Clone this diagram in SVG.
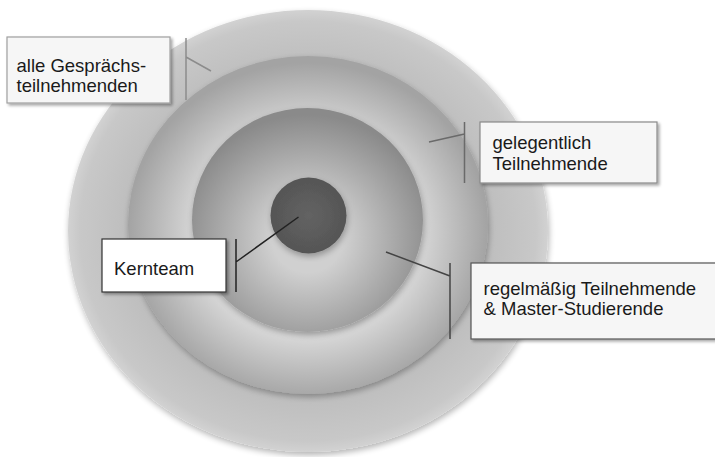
<svg xmlns="http://www.w3.org/2000/svg" width="715" height="457" viewBox="0 0 715 457">
  <style>
    .lbl { font-family: "Liberation Sans", Arial, sans-serif; font-size: 18.5px; fill: #1a1a1a; }
    .box { fill: #f6f6f6; stroke: #8a8a8a; stroke-width: 1.2; }
    .con { fill: none; stroke: #555; stroke-width: 1.5; }
  </style>
  <defs>
    <radialGradient id="gOuter" cx="50%" cy="50%" r="50%">
      <stop offset="0.72" stop-color="#bcbcbc"/>
      <stop offset="0.95" stop-color="#c8c8c8"/>
      <stop offset="1" stop-color="#d2d2d2"/>
    </radialGradient>
    <radialGradient id="gSecond" cx="50%" cy="52%" r="50%">
      <stop offset="0.62" stop-color="#d8d8d8"/>
      <stop offset="1" stop-color="#a3a3a3"/>
    </radialGradient>
    <radialGradient id="gThird" cx="50%" cy="58%" r="55%">
      <stop offset="0.28" stop-color="#d0d0d0"/>
      <stop offset="1" stop-color="#8a8a8a"/>
    </radialGradient>
    <radialGradient id="gInner" cx="50%" cy="50%" r="50%">
      <stop offset="0" stop-color="#636363"/>
      <stop offset="1" stop-color="#555555"/>
    </radialGradient>
    <filter id="discShadow" x="-10%" y="-10%" width="120%" height="120%">
      <feGaussianBlur in="SourceAlpha" stdDeviation="3"/>
      <feOffset dx="1" dy="3" result="b"/>
      <feComponentTransfer><feFuncA type="linear" slope="0.3"/></feComponentTransfer>
      <feMerge><feMergeNode/><feMergeNode in="SourceGraphic"/></feMerge>
    </filter>
    <filter id="boxShadow" x="-10%" y="-20%" width="120%" height="140%">
      <feGaussianBlur in="SourceAlpha" stdDeviation="1.5"/>
      <feOffset dx="1.5" dy="2" result="b"/>
      <feComponentTransfer><feFuncA type="linear" slope="0.35"/></feComponentTransfer>
      <feMerge><feMergeNode/><feMergeNode in="SourceGraphic"/></feMerge>
    </filter>
  </defs>

  <rect width="715" height="457" fill="#ffffff"/>

  <g id="discs">
    <ellipse id="disc-outer" cx="308" cy="231" rx="240" ry="221" fill="url(#gOuter)" filter="url(#discShadow)"/>
    <ellipse id="disc-second" cx="308" cy="225" rx="180" ry="169" fill="url(#gSecond)" filter="url(#discShadow)"/>
    <ellipse id="disc-third" cx="307.5" cy="220" rx="115.5" ry="112" fill="url(#gThird)" filter="url(#discShadow)"/>
    <ellipse id="disc-inner" cx="308.5" cy="215.5" rx="38" ry="38" fill="url(#gInner)" filter="url(#discShadow)"/>
  </g>

  <g id="connectors">
    <path class="con" d="M186 38 V100 M186 57 L211 71" style="stroke:#8c8c8c"/>
    <path class="con" d="M464.5 122 V183 M464.5 134 L429 142" style="stroke:#6a6a6a"/>
    <path class="con" d="M236 239 V292 M236 262 L298.5 217" style="stroke:#222"/>
    <path class="con" d="M450 263 V339 M450 276 L386 252" style="stroke:#444"/>
  </g>

  <g id="label-alle">
    <rect class="box" x="7" y="37" width="163" height="66" filter="url(#boxShadow)" style="stroke:#a0a0a0"/>
    <text class="lbl" x="16.5" y="72">alle Gesprächs-</text>
    <text class="lbl" x="16.5" y="92">teilnehmenden</text>
  </g>

  <g id="label-gelegentlich">
    <rect class="box" x="480" y="122" width="177" height="61" filter="url(#boxShadow)"/>
    <text class="lbl" x="492.5" y="149">gelegentlich</text>
    <text class="lbl" x="492.5" y="170">Teilnehmende</text>
  </g>

  <g id="label-kernteam">
    <rect class="box" x="102" y="239" width="124" height="53" filter="url(#boxShadow)" style="fill:#ffffff;stroke:#333"/>
    <text class="lbl" x="114" y="274.5">Kernteam</text>
  </g>

  <g id="label-regelmaessig">
    <rect class="box" x="471" y="263" width="250" height="76" filter="url(#boxShadow)" style="stroke:#555"/>
    <text class="lbl" x="483.5" y="294.5">regelmäßig Teilnehmende</text>
    <text class="lbl" x="483.5" y="314.5">&amp; Master-Studierende</text>
  </g>
</svg>
